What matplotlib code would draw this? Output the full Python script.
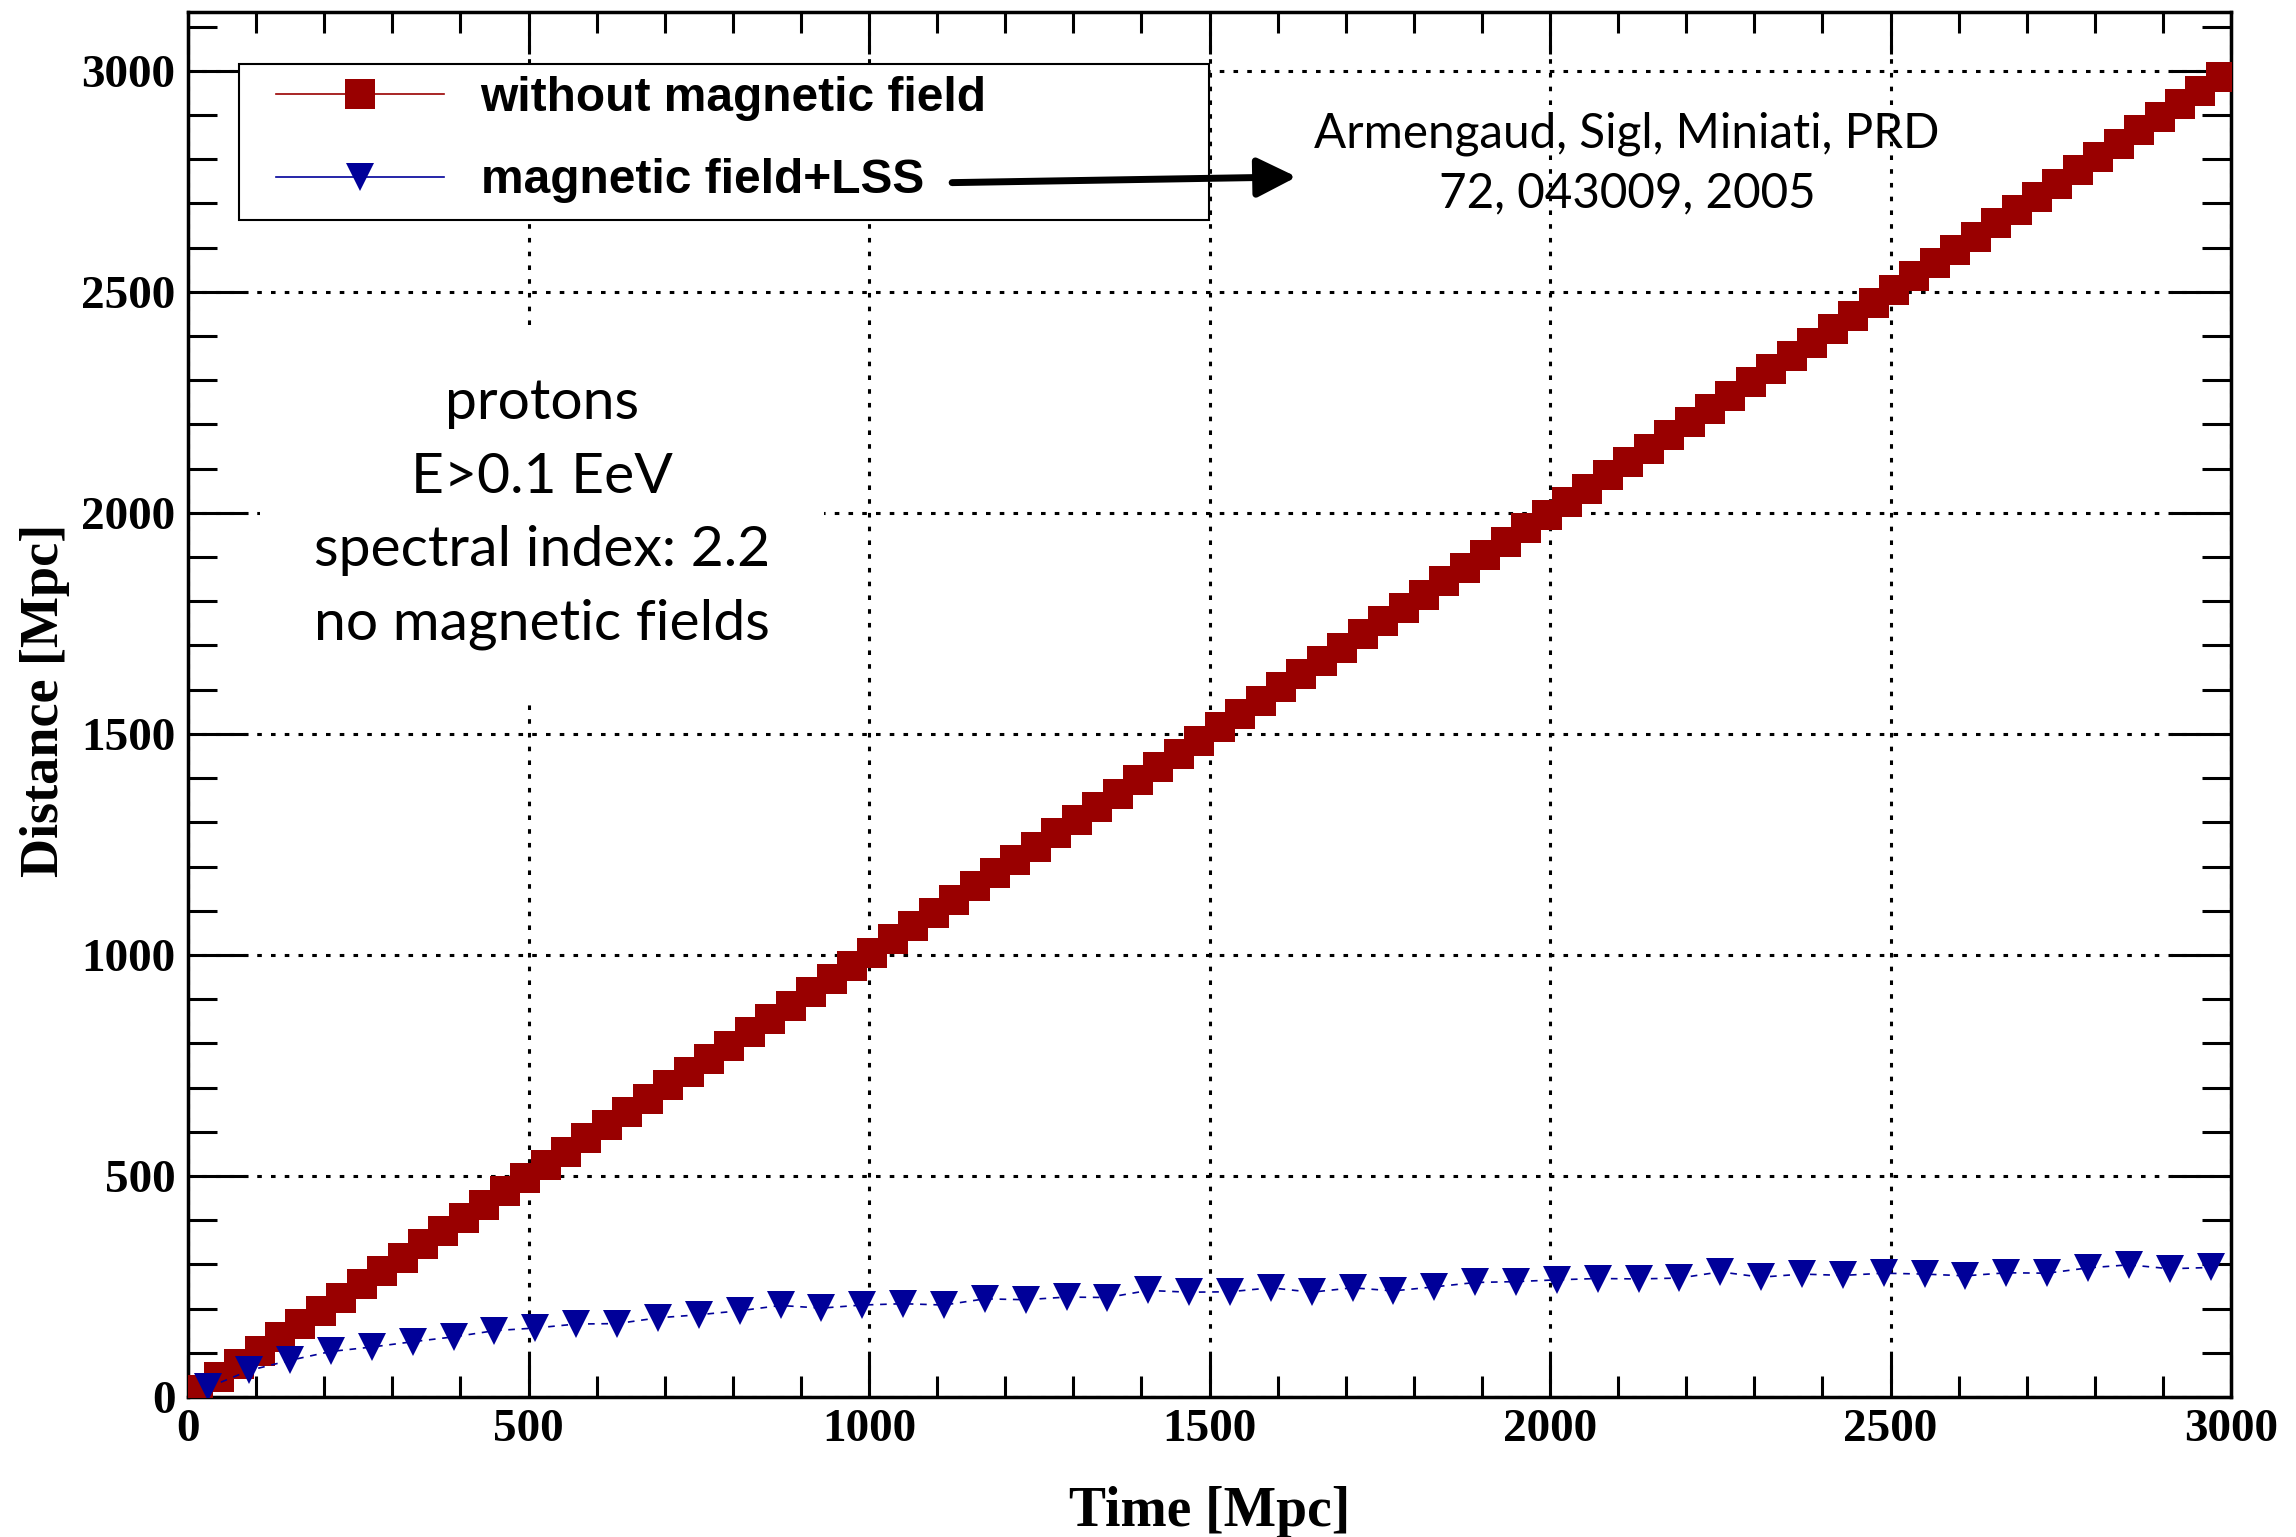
#!/usr/bin/env python3

"""Distance vs time for protons, with and without magnetic field"""

import matplotlib
matplotlib.use('Agg')
import matplotlib.pyplot as plt
import matplotlib.transforms as mtransforms
import numpy as np
from matplotlib.lines import Line2D
from matplotlib.patches import Rectangle
from matplotlib.ticker import MultipleLocator

# without magnetic field: one point every 30 Mpc
red_time = np.arange(15, 3000, 30)
red_dist = [15, 45, 75, 105, 135, 165, 195, 225, 255, 285,
            315, 345, 375, 405, 435, 465, 495, 525, 555, 585,
            615, 645, 675, 705, 735, 765, 795, 825, 855, 885,
            915, 945, 975, 1005, 1035, 1065, 1095, 1125, 1155, 1185,
            1215, 1245, 1275, 1305, 1335, 1365, 1395, 1425, 1455, 1485,
            1515, 1545, 1575, 1605, 1635, 1665, 1695, 1725, 1755, 1785,
            1815, 1845, 1875, 1905, 1935, 1965, 1995, 2025, 2055, 2085,
            2115, 2145, 2175, 2205, 2235, 2265, 2295, 2325, 2355, 2385,
            2415, 2445, 2475, 2505, 2535, 2565, 2595, 2625, 2655, 2685,
            2715, 2745, 2775, 2805, 2835, 2865, 2895, 2925, 2955, 2985]

# magnetic field + LSS: one point every 60 Mpc
blue_time = np.arange(30, 3000, 60)
blue_dist = [22, 60, 83, 103, 113, 125, 136, 150, 156, 165,
             166, 179, 186, 195, 207, 201, 208, 211, 208, 222,
             220, 226, 225, 241, 237, 238, 247, 237, 247, 240,
             249, 259, 261, 265, 268, 267, 269, 283, 271, 278,
             275, 280, 278, 274, 281, 280, 292, 299, 290, 293]

labels = ['without magnetic field', 'magnetic field+LSS']
info_text = 'protons\nE>0.1 EeV\nspectral index: 2.2\nno magnetic fields'
ref_text = 'Armengaud, Sigl, Miniati, PRD\n72, 043009, 2005'

RED = '#990000'
BLUE = '#000099'
SERIF = 'Liberation Serif'
W, H = 2296, 1537


def main():
    fig = plt.figure(figsize=(W / 100, H / 100), dpi=100)
    ax = fig.add_axes([0.0819, 0.0911, 0.8898, 0.9011])

    # data
    ax.plot(red_time, red_dist, color=RED, lw=1.0, marker='s', ms=21, mew=0, zorder=3)
    ax.plot(blue_time, blue_dist, color=BLUE, lw=1.2, ls=(0, (4, 4)),
            marker='v', ms=20, mew=0, zorder=4)

    # axes
    ax.set_xlim(0, 3000)
    ax.set_ylim(0, 3133)
    ax.xaxis.set_major_locator(MultipleLocator(500))
    ax.xaxis.set_minor_locator(MultipleLocator(100))
    ax.yaxis.set_major_locator(MultipleLocator(500))
    ax.yaxis.set_minor_locator(MultipleLocator(100))
    for sp in ax.spines.values():
        sp.set_linewidth(2.5)
    ax.tick_params(which='both', direction='in', top=True, right=True, width=2.2)
    ax.tick_params(axis='x', which='major', length=30, pad=9)
    ax.tick_params(axis='x', which='minor', length=15)
    ax.tick_params(axis='y', which='major', length=43, pad=9)
    ax.tick_params(axis='y', which='minor', length=21)
    for lbl in ax.get_xticklabels() + ax.get_yticklabels():
        lbl.set_fontfamily(SERIF)
        lbl.set_fontweight('bold')
        lbl.set_fontsize(34)
    ax.set_axisbelow(True)
    ax.grid(which='major', color='k', lw=2.2, ls=(0, (1.5, 3)))

    ax.set_xlabel('Time [Mpc]', fontfamily=SERIF, fontweight='bold', fontsize=40)
    ax.set_ylabel('Distance [Mpc]', fontfamily=SERIF, fontweight='bold', fontsize=39)
    ax.xaxis.set_label_coords(0.5, -0.083)
    ax.xaxis.label.set_va('center')
    ax.yaxis.set_label_coords(-0.070, 0.503)
    ax.yaxis.label.set_va('center')

    # legend: white box drawn separately, entries placed inside it
    ax.add_patch(Rectangle((239 / W, 1 - 220 / H), 970 / W, 156 / H,
                           transform=fig.transFigure, facecolor='white',
                           edgecolor='k', lw=1.5, zorder=4.9, clip_on=False))
    handles = [Line2D([], [], color=RED, lw=1.2, marker='s', ms=21, mew=0),
               Line2D([], [], color=BLUE, lw=1.2, marker='v', ms=20, mew=0)]
    leg = ax.legend(handles, labels, loc='upper left',
                    bbox_to_anchor=(276 / W, 1 - 76 / H),
                    bbox_transform=fig.transFigure,
                    prop={'family': 'Liberation Sans', 'weight': 'bold', 'size': 34.5},
                    handlelength=3.5, handletextpad=0.77, borderpad=0,
                    labelspacing=0.78, frameon=False, borderaxespad=0)
    leg.set_zorder(5)

    # annotations
    ax.text(520, 1997, info_text, ha='center', va='center', multialignment='center',
            fontfamily='Lato', fontsize=41, linespacing=1.55, zorder=5,
            bbox=dict(boxstyle='square,pad=0.95', facecolor='white', edgecolor='none'))
    ax.text(2113, 2791, ref_text, ha='center', va='center', multialignment='center',
            fontfamily='Lato', fontsize=34.3, linespacing=1.44, zorder=5)
    ax.annotate('', xy=(1628, 2760), xytext=(1122, 2747), zorder=6,
                arrowprops=dict(arrowstyle='-|>,head_length=0.6,head_width=0.3',
                                mutation_scale=40, lw=5, color='k',
                                shrinkA=0, shrinkB=0))

    # nudge the last x label a bit to the left, like the original
    fig.canvas.draw()
    last = ax.xaxis.get_major_ticks()[-1].label1
    last.set_transform(last.get_transform() +
                       mtransforms.ScaledTranslation(-0.22, 0, fig.dpi_scale_trans))

    fig.savefig('out.png', dpi=100)


if __name__ == "__main__":
    main()
